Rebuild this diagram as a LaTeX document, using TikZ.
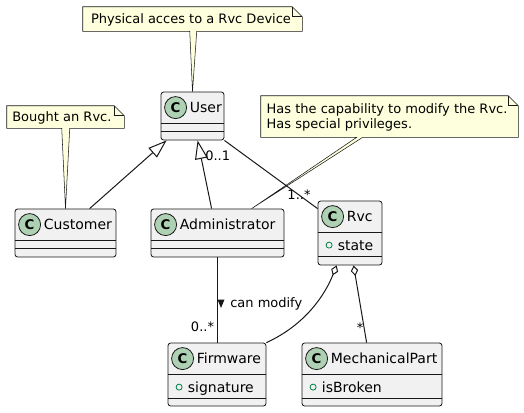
\documentclass[tikz,border=0pt]{standalone}
\usepackage{fontspec}
\setmainfont{DejaVu Sans}
\usetikzlibrary{calc, fit, arrows.meta}

\definecolor{edgecol}{HTML}{181818}
\definecolor{classbg}{HTML}{F1F1F1}
\definecolor{iconfill}{HTML}{ADD1B2}
\definecolor{notebg}{HTML}{FEFFDD}
\definecolor{attrgreen}{HTML}{038048}

\begin{document}
\begin{tikzpicture}[x=0.75pt, y=-0.75pt,
  classbox/.style={draw=edgecol, fill=classbg, rounded corners=2pt, inner sep=0pt, line width=0.6pt},
  sepline/.style={draw=edgecol, line width=0.6pt},
  cicon/.style={circle, draw=edgecol, fill=iconfill, minimum size=16.5pt, inner sep=0pt, line width=0.6pt,
    font=\bfseries\fontsize{10}{10}\selectfont},
  cname/.style={anchor=base west, inner sep=0pt, font=\fontsize{10.5}{12}\selectfont},
  attrdot/.style={circle, draw=attrgreen, minimum size=4.5pt, inner sep=0pt, line width=0.6pt},
  notefit/.style={inner sep=0pt},
  noteline/.style={draw=edgecol, fill=notebg, line width=0.4pt},
  notetext/.style={anchor=base west, inner sep=0pt, font=\fontsize{9.75}{11}\selectfont},
  conn/.style={draw=edgecol, line width=0.75pt},
  mult/.style={anchor=base, inner sep=0pt, font=\fontsize{9.75}{11}\selectfont},
  inherit/.style={-{Triangle[open, fill=white, length=14pt, width=9.5pt]}},
  aggr/.style={{Diamond[open, fill=white, length=8pt, width=5.5pt]}-}]

  \useasboundingbox (0,0) rectangle (524,412);

  % classes: name / corners / second separator
  \foreach \n/\xa/\ya/\xb/\yb/\s in {User/161/92/224/140/40, Customer/15/209/116/257/40,
      Administrator/151/209/284/257/40, Rvc/318/201/382/265/56,
      Firmware/168/343/266/406/56, MechanicalPart/302/343/442/406/56} {
    \node[classbox, fit={(\xa,\ya) (\xb,\yb)}] (\n) {};
    \node[cicon] (\n-icon) at ($(\n.north west)+(15,16)$) {C};
    \node[cname] (\n-name) at ($(\n.north west)+(29,21)$) {\n};
    \draw[sepline] ($(\n.north west)+(0,32)$) -- ($(\n.north east)+(0,32)$);
    \draw[sepline] ($(\n.north west)+(0,\s)$) -- ($(\n.north east)+(0,\s)$);
  }

  % attributes
  \foreach \n/\a in {Rvc/state, Firmware/signature, MechanicalPart/isBroken} {
    \node[attrdot] (\n-dot) at ($(\n.north west)+(11.5,44.5)$) {};
    \node[cname] (\n-attr) at ($(\n.north west)+(20,49.5)$) {\a};
  }

  % notes
  \node[notefit, fit={(83,7) (302,31)}] (note1) {};
  \draw[noteline] (note1.north west) -- ($(note1.north east)+(-10,0)$) -- ($(note1.north east)+(0,10)$)
    -- (note1.south east) -- ($(note1.south west)+(114,0)$) -- (User.north)
    -- ($(note1.south west)+(107,0)$) -- (note1.south west) -- cycle;
  \draw[noteline, fill=none] ($(note1.north east)+(-10,0)$) |- ($(note1.north east)+(0,10)$);
  \node[notetext] (note1-text) at ($(note1.north west)+(8,16.7)$) {Physical acces to a Rvc Device};

  \node[notefit, fit={(7,106) (124,128)}] (note2) {};
  \draw[noteline] (note2.north west) -- ($(note2.north east)+(-10,0)$) -- ($(note2.north east)+(0,10)$)
    -- (note2.south east) -- ($(note2.south west)+(63,0)$) -- (Customer.north)
    -- ($(note2.south west)+(55,0)$) -- (note2.south west) -- cycle;
  \draw[noteline, fill=none] ($(note2.north east)+(-10,0)$) |- ($(note2.north east)+(0,10)$);
  \node[notetext] (note2-text) at ($(note2.north west)+(5.3,15.4)$) {Bought an Rvc.};

  \node[notefit, fit={(261,96) (518,137)}] (note3) {};
  \draw[noteline] (note3.north west) -- ($(note3.north east)+(-10,0)$) -- ($(note3.north east)+(0,10)$)
    -- (note3.south east) -- ($(note3.south west)+(102,0)$) -- ($(Administrator.north west)+(101,0)$)
    -- ($(note3.south west)+(96,0)$) -- (note3.south west) -- cycle;
  \draw[noteline, fill=none] ($(note3.north east)+(-10,0)$) |- ($(note3.north east)+(0,10)$);
  \node[notetext] (note3-a) at ($(note3.north west)+(5.7,17.7)$) {Has the capability to modify the Rvc.};
  \node[notetext] (note3-b) at ($(note3.north west)+(5.7,32.7)$) {Has special privileges.};

  % relations
  \draw[conn, inherit] ($(Customer.north west)+(75,0)$) -- ($(User.south west)+(6,0)$);
  \draw[conn, inherit] ($(Administrator.north west)+(61,0)$) -- ($(User.south west)+(37,0)$);
  \draw[conn] (User.south east) -- ($(Rvc.north west)+(0,8)$);
  \node[mult] (m-user) at (217.7,160.7) {0..1};
  \node[mult] (m-rvc) at (299,199.7) {1..*};

  \draw[conn] (Administrator.south) -- (Administrator.south |- Firmware.north);
  \fill[edgecol] (217.5,299.5) -- (224.5,299.5) -- (221,308) -- cycle;
  \node[mult, anchor=base west] (lbl-modify) at (230,307.5) {can modify};
  \node[mult] (m-firmware) at (202.5,331.5) {0..*};

  \draw[conn, aggr] ($(Rvc.south west)+(19,0)$) .. controls (325,295) and (305,325) .. (Firmware.north east);
  \draw[conn, aggr] ($(Rvc.south west)+(36,0)$) -- ($(MechanicalPart.north west)+(65,0)$);
  \node[mult] (m-part) at (360,332.5) {*};
\end{tikzpicture}
\end{document}
